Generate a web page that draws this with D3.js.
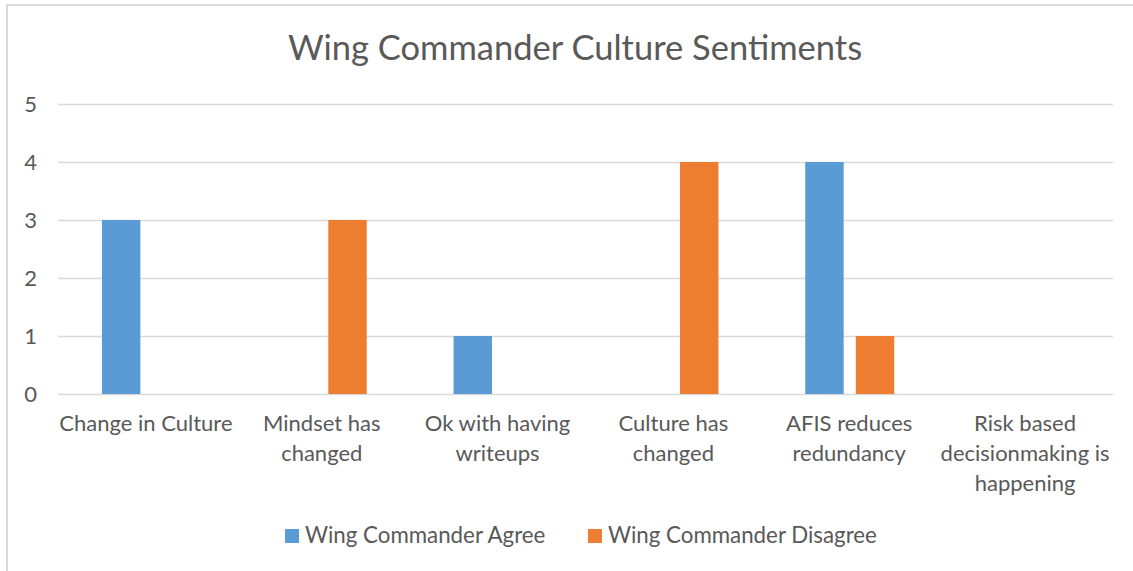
<!DOCTYPE html>
<html>
<head>
<meta charset="utf-8">
<script src="https://cdn.jsdelivr.net/npm/d3@7"></script>
<style>
  body { margin: 0; background: #fff; }
  svg { display: block; font-family: Lato, "Open Sans", sans-serif; }
</style>
</head>
<body>
<div id="chart"></div>
<script>
const categories = [
  "Change in Culture",
  "Mindset has changed",
  "Ok with having writeups",
  "Culture has changed",
  "AFIS reduces redundancy",
  "Risk based decisionmaking is happening"
];
const seriesNames = ["Wing Commander Agree", "Wing Commander Disagree"];
const agreeValues = [3, 0, 1, 0, 4, 0];
const disagreeValues = [0, 3, 0, 4, 1, 0];
const yTicks = [0, 1, 2, 3, 4, 5];
const colors = ["#5b9bd5", "#ed7d31"];

const W = 1133, H = 571;
const margin = { top: 104, right: 20, bottom: 177, left: 58 };
const textColor = "#595959";

const rows = categories.map((c, i) => ({
  category: c,
  values: [agreeValues[i], disagreeValues[i]]
}));

const svg = d3.select("#chart").append("svg")
  .attr("width", W)
  .attr("height", H);

// chart frame (only left/top edges visible in the crop)
svg.append("rect")
  .attr("x", 7).attr("y", 5)
  .attr("width", W + 10).attr("height", H + 10)
  .attr("fill", "none")
  .attr("stroke", "#d9d9d9")
  .attr("stroke-width", 2);

const x0 = d3.scaleBand()
  .domain(categories)
  .range([margin.left, 1113])
  .padding(0);

const x1 = d3.scaleBand()
  .domain(seriesNames)
  .range([-44, 45])
  .paddingInner(0.24);

const y = d3.scaleLinear()
  .domain([0, 5])
  .range([394, 104]);

// grid lines
svg.append("g")
  .selectAll("line")
  .data(yTicks)
  .enter()
  .append("line")
  .attr("x1", margin.left)
  .attr("x2", 1113)
  .attr("y1", d => Math.round(y(d)) + 0.5)
  .attr("y2", d => Math.round(y(d)) + 0.5)
  .attr("stroke", "#d9d9d9")
  .attr("stroke-width", 1.5);

// y tick labels
svg.append("g")
  .selectAll("text")
  .data(yTicks)
  .enter()
  .append("text")
  .attr("x", 37)
  .attr("y", d => y(d) + 8)
  .attr("text-anchor", "end")
  .style("font-size", "22px")
  .style("fill", textColor)
  .text(d => d);

// bars
const groups = svg.append("g")
  .selectAll("g")
  .data(rows)
  .enter()
  .append("g")
  .attr("transform", d => `translate(${x0(d.category) + x0.bandwidth() / 2},0)`);

groups.selectAll("rect")
  .data(d => d.values.map((v, i) => ({ key: seriesNames[i], value: v, i })))
  .enter()
  .append("rect")
  .filter(d => d.value > 0)
  .attr("x", d => x1(d.key))
  .attr("width", x1.bandwidth())
  .attr("y", d => y(d.value))
  .attr("height", d => y(0) - y(d.value))
  .attr("fill", d => colors[d.i]);

// category labels with wrapping
const catFont = 22;
const labels = svg.append("g")
  .selectAll("text")
  .data(categories)
  .enter()
  .append("text")
  .attr("text-anchor", "middle")
  .attr("x", d => x0(d) + x0.bandwidth() / 2)
  .attr("y", 431)
  .style("font-size", catFont + "px")
  .style("fill", textColor);

labels.each(function(d) {
  const text = d3.select(this);
  const cx = x0(d) + x0.bandwidth() / 2;
  const words = d.split(/\s+/);
  const maxW = x0.bandwidth() + 2;
  let line = [];
  let lineNo = 0;
  let tspan = text.append("tspan").attr("x", cx).attr("y", 431);
  words.forEach(w => {
    line.push(w);
    tspan.text(line.join(" "));
    if (tspan.node().getComputedTextLength() > maxW && line.length > 1) {
      line.pop();
      tspan.text(line.join(" "));
      line = [w];
      lineNo++;
      tspan = text.append("tspan")
        .attr("x", cx)
        .attr("y", 431 + lineNo * 30)
        .text(w);
    }
  });
});

// title
svg.append("text")
  .attr("x", 575)
  .attr("y", 60)
  .attr("text-anchor", "middle")
  .style("font-size", "34.5px")
  .style("fill", textColor)
  .text("Wing Commander Culture Sentiments");

// legend
const legendX = [285, 588];
const legend = svg.append("g");
seriesNames.forEach((name, i) => {
  const item = legend.append("g")
    .attr("transform", `translate(${legendX[i]}, 529)`);
  item.append("rect")
    .attr("width", 14)
    .attr("height", 14)
    .attr("fill", colors[i]);
  item.append("text")
    .attr("x", 20)
    .attr("y", 14)
    .style("font-size", "22.3px")
    .style("fill", textColor)
    .text(name);
});
</script>
</body>
</html>
